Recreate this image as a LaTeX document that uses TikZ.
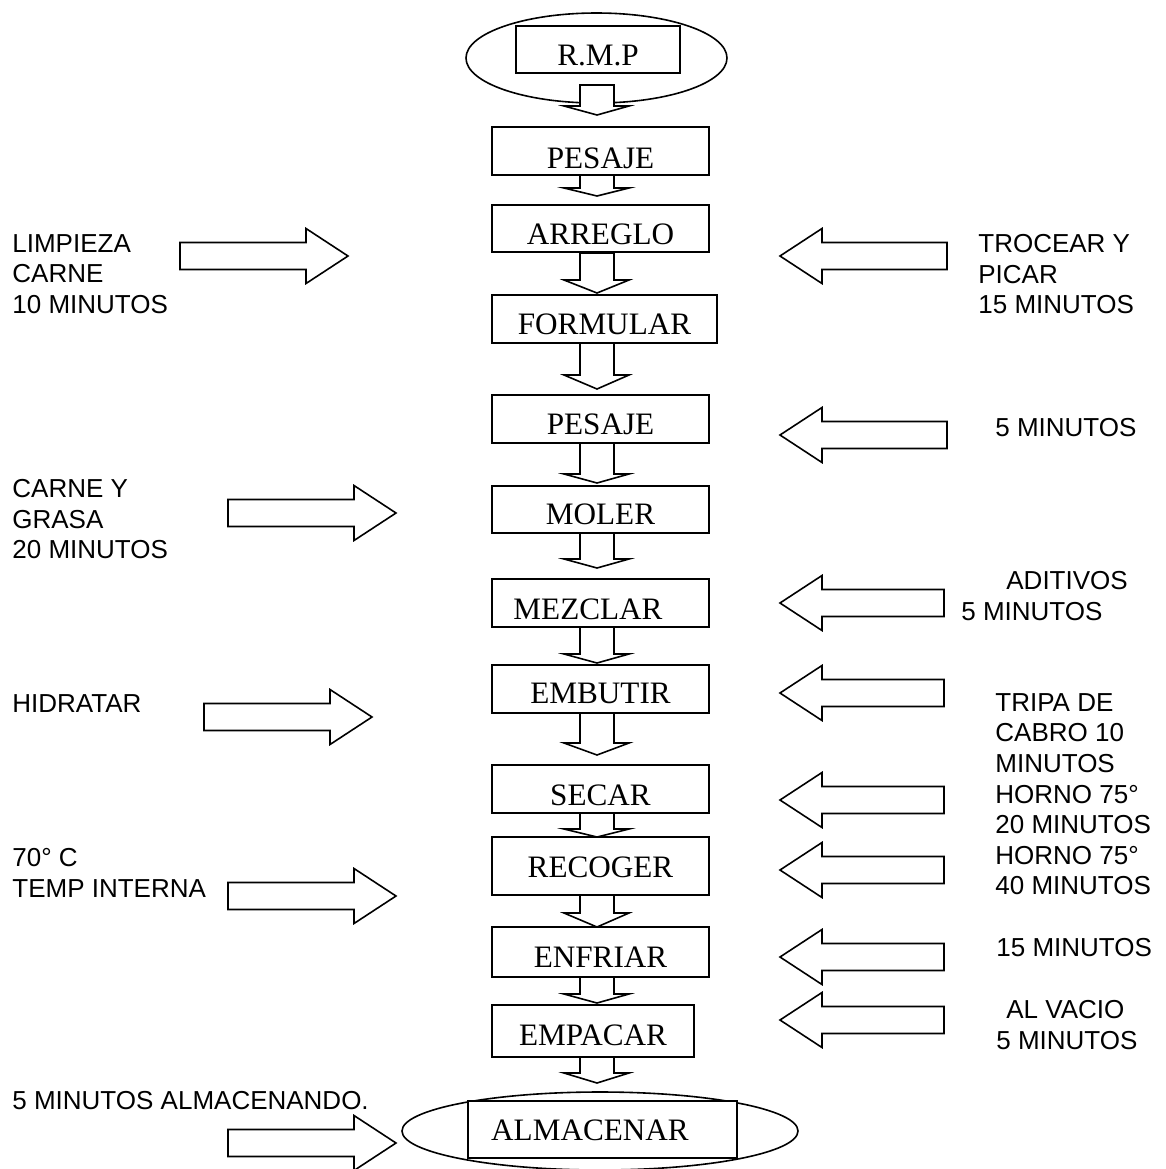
\documentclass[tikz,border=0pt]{standalone}
\usepackage{fontspec}
\setmainfont{Liberation Serif}
\setsansfont{Liberation Sans}
\usetikzlibrary{shapes.geometric}
\tikzset{
  caja/.style={draw, fill=white, line width=0.8pt, inner sep=0pt, text depth=0pt, font=\fontsize{15.6}{18}\selectfont},
  ovalo/.style={draw, ellipse, line width=0.8pt, inner sep=0pt},
  bloque/.style={draw, fill=white, line width=0.8pt},
  nota/.style={anchor=north west, inner sep=0pt, align=left, font=\sffamily\fontsize{13}{15.3}\selectfont}
}
\begin{document}
\begin{tikzpicture}[x=0.5pt,y=-0.5pt]
  \useasboundingbox (0,0) rectangle (1166,1169);
  \node[ovalo, minimum width=130.5pt, minimum height=45pt] (ovaloA) at (596.5,58) {};
  \node[ovalo, minimum width=198pt, minimum height=39pt] (ovaloB) at (600,1131) {};

  \node[caja, minimum width=82pt, minimum height=23.5pt, text height=15.5pt] (rmp) at (598,49.5) {R.M.P};
  \node[caja, minimum width=108.5pt, minimum height=24pt, text height=17pt] (pesajeA) at (600.5,151) {PESAJE};
  \node[caja, minimum width=108.5pt, minimum height=23.5pt, text height=15.5pt] (arreglo) at (600.5,228.5) {ARREGLO};
  \node[caja, minimum width=112.5pt, minimum height=24pt, text height=15pt] (formular) at (604.5,319) {FORMULAR};
  \node[caja, minimum width=108.5pt, minimum height=24pt, text height=15pt] (pesajeB) at (600.5,419) {PESAJE};
  \node[caja, minimum width=108.5pt, minimum height=23.5pt, text height=14.5pt] (moler) at (600.5,509.5) {MOLER};
  \node[caja, minimum width=108.5pt, minimum height=24pt, text height=16pt] (mezclar) at (600.5,603) {MEZCLAR\hspace*{12.5pt}};
  \node[caja, minimum width=108.5pt, minimum height=24pt, text height=14pt] (embutir) at (600.5,689) {EMBUTIR};
  \node[caja, minimum width=108.5pt, minimum height=24pt, text height=16pt] (secar) at (600.5,789) {SECAR};
  \node[caja, minimum width=108.5pt, minimum height=29pt, text height=11pt] (recoger) at (600.5,866) {RECOGER};
  \node[caja, minimum width=108.5pt, minimum height=25pt, text height=15pt] (enfriar) at (600.5,952) {ENFRIAR};
  \node[caja, minimum width=101pt, minimum height=26pt, text height=14pt] (empacar) at (593,1031) {EMPACAR};
  \node[caja, minimum width=134.5pt, minimum height=28.5pt, text height=10.5pt] (almacenar) at (602.5,1129.5) {ALMACENAR\hspace*{12.5pt}};

  \foreach \t/\b/\p in {85/106/115, 175/188/196, 253/280/293, 343/375/389,
      443/474/483, 533/559/568, 627/654/663, 713/743/755, 813/829/837,
      895/913/927, 977/994/1003, 1057/1073/1083}
    \draw[bloque] (580,\t) -- (580,\b) -- (564,\b) -- (597,\p) -- (629,\b) -- (614,\b) -- (614,\t) -- cycle;

  \foreach \x/\y in {180/256, 228/513, 204/717, 228/896, 228/1143}
    \draw[bloque] (\x,\y-13.5) -- (\x+126,\y-13.5) -- (\x+126,\y-27.5) -- (\x+168,\y)
      -- (\x+126,\y+27.5) -- (\x+126,\y+13.5) -- (\x,\y+13.5) -- cycle;
  \foreach \r/\y in {947/256, 947/435, 944/603, 944/693, 944/800, 944/870, 944/957, 944/1020}
    \draw[bloque] (\r,\y-13.5) -- (822,\y-13.5) -- (822,\y-27.5) -- (780,\y)
      -- (822,\y+27.5) -- (822,\y+13.5) -- (\r,\y+13.5) -- cycle;

  \node[nota] (limpieza) at (12,234) {LIMPIEZA\\CARNE\\10 MINUTOS};
  \node[nota] (grasa) at (12,479) {CARNE Y\\GRASA\\20 MINUTOS};
  \node[nota] (hidratar) at (12,694) {HIDRATAR};
  \node[nota] (temp) at (12,848) {70° C\\TEMP INTERNA};
  \node[nota] (almacenando) at (12,1091) {5 MINUTOS ALMACENANDO.};
  \node[nota] (trocear) at (978,234) {TROCEAR Y\\PICAR\\15 MINUTOS};
  \node[nota] (cinco) at (995,418) {5 MINUTOS};
  \node[nota] (aditivos) at (961,571) {\hspace*{22.5pt}ADITIVOS\\5 MINUTOS};
  \node[nota] (tripa) at (995,693) {TRIPA DE\\CABRO 10\\MINUTOS\\HORNO 75°\\20 MINUTOS\\HORNO 75°\\40 MINUTOS};
  \node[nota] (quince) at (996,938) {15 MINUTOS};
  \node[nota] (vacio) at (996,1000) {\hspace*{5pt}AL VACIO\\5 MINUTOS};
\end{tikzpicture}
\end{document}
